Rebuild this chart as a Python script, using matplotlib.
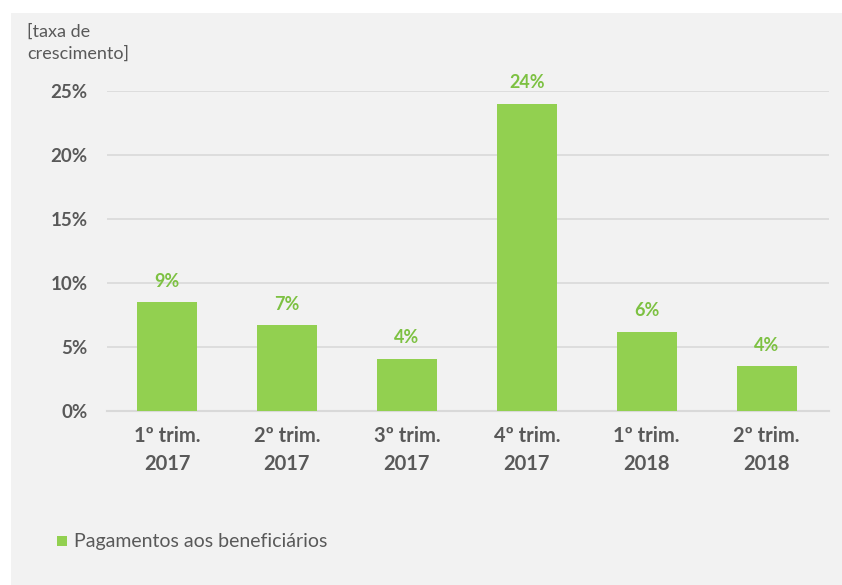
import matplotlib
matplotlib.use('Agg')
import matplotlib.pyplot as plt
from matplotlib.patches import Rectangle
from matplotlib.ticker import FuncFormatter

categories = ['1º trim.\n2017', '2º trim.\n2017', '3º trim.\n2017',
              '4º trim.\n2017', '1º trim.\n2018', '2º trim.\n2018']
values = [8.5, 6.7, 4.1, 24.0, 6.2, 3.5]
labels = ['9%', '7%', '4%', '24%', '6%', '4%']
yticks = [0, 5, 10, 15, 20, 25]

plt.rcParams['font.family'] = ['Lato', 'DejaVu Sans']

bar_color = '#92d050'
label_color = '#7dc142'
text_color = '#595959'
grid_color = '#d9d9d9'

fig = plt.figure(figsize=(8.42, 5.85), dpi=100)
fig.patch.set_facecolor('white')
# grey panel behind the chart
fig.patches.append(Rectangle((11 / 842, 0), 1 - 11 / 842, 572 / 585,
                             transform=fig.transFigure, facecolor='#f2f2f2',
                             edgecolor='none', zorder=-10))

ax = fig.add_axes([107 / 842, 1 - 411 / 585, 722 / 842, 320 / 585])
ax.set_facecolor('none')

x = range(len(categories))
bars = ax.bar(x, values, width=0.5, color=bar_color, zorder=3)
for i, (v, lab) in enumerate(zip(values, labels)):
    ax.annotate(lab, (i, v), xytext=(0, 15), textcoords='offset points',
                ha='center', va='center', color=label_color,
                fontsize=13, fontweight='bold')

ax.set_xlim(-0.5, len(categories) - 0.5 + 0.02)
ax.set_ylim(0, 25)
ax.set_yticks(yticks)
ax.yaxis.set_major_formatter(FuncFormatter(lambda v, p: f'{v:.0f}%'))
ax.grid(axis='y', color=grid_color, lw=1.2, zorder=0)
ax.set_xticks(list(x))
ax.set_xticklabels(categories, linespacing=1.5)
ax.tick_params(axis='y', length=0, colors=text_color, labelsize=13.5, pad=14)
ax.tick_params(axis='x', length=0, colors=text_color, labelsize=14.5, pad=11)
for t in ax.get_xticklabels() + ax.get_yticklabels():
    t.set_fontweight('bold')
for s in ['top', 'right', 'left']:
    ax.spines[s].set_visible(False)
ax.spines['bottom'].set_color(grid_color)
ax.spines['bottom'].set_linewidth(1.5)

fig.text(27 / 842, 1 - 24 / 585, '[taxa de\ncrescimento]', ha='left', va='top',
         color=text_color, fontsize=13, linespacing=1.4)

fig.patches.append(Rectangle((57 / 842, 1 - 546 / 585), 10 / 842, 10 / 585,
                             transform=fig.transFigure, facecolor=bar_color,
                             edgecolor='none'))
fig.text(74 / 842, 1 - 541 / 585, 'Pagamentos aos beneficiários', ha='left',
         va='center', color=text_color, fontsize=14)

fig.savefig('out.png', dpi=100, facecolor=fig.get_facecolor())
